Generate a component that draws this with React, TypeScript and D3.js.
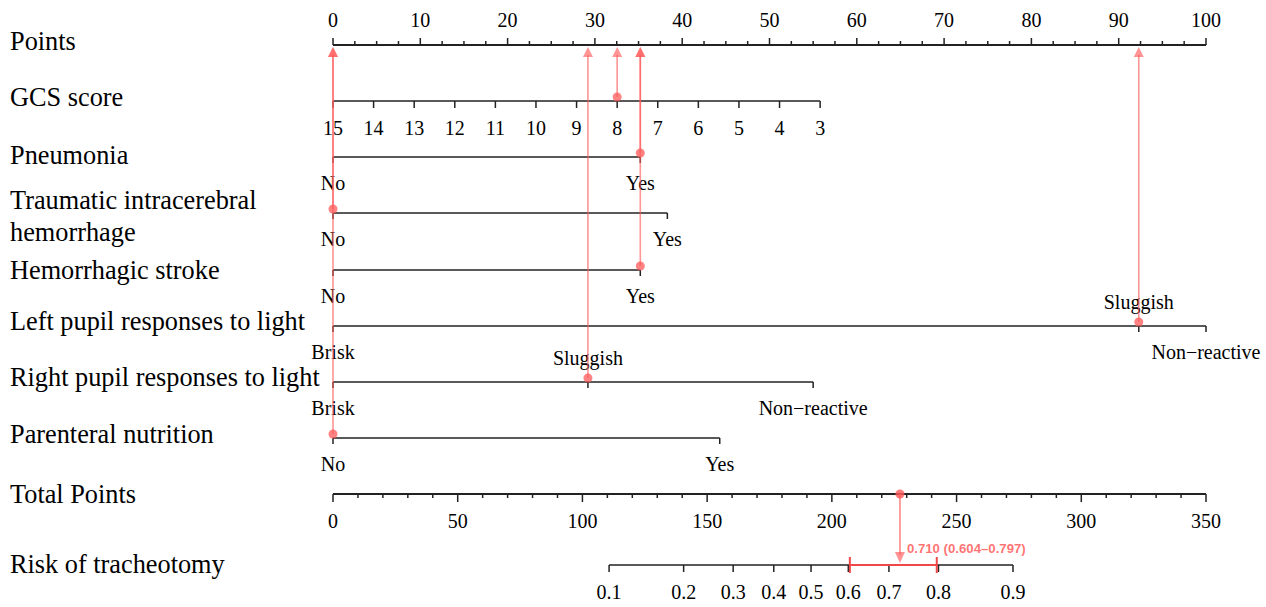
import React from "react";
import * as d3 from "d3";

// ---- data ----
const pointTicks = d3.range(0, 101, 10);
const pointMinor = d3.range(0, 100.01, 2.5);
const gcsLevels = [15, 14, 13, 12, 11, 10, 9, 8, 7, 6, 5, 4, 3];
const gcsPointRange = [0, 55.8]; // points at GCS 15 and GCS 3
const pneumoniaLevels = ["No", "Yes"];
const pneumoniaPoints = [0, 35.2];
const ichLevels = ["No", "Yes"];
const ichPoints = [0, 38.3];
const strokeLevels = ["No", "Yes"];
const strokePoints = [0, 35.2];
const leftPupilLevels = ["Brisk", "Sluggish", "Non\u2212reactive"];
const leftPupilPoints = [0, 92.3, 100];
const rightPupilLevels = ["Brisk", "Sluggish", "Non\u2212reactive"];
const rightPupilPoints = [0, 29.2, 55.0];
const pnLevels = ["No", "Yes"];
const pnPoints = [0, 44.3];
const totalTicks = d3.range(0, 351, 50);
const totalMinor = d3.range(0, 351, 10);
const riskTicks = [0.1, 0.2, 0.3, 0.4, 0.5, 0.6, 0.7, 0.8, 0.9];
const riskIntercept = -5.201;
const riskSlope = 0.027137;
// selected patient
const selGcs = 8;
const selPneumonia = 1;
const selIch = 0;
const selStroke = 1;
const selLeft = 1;
const selRight = 1;
const selPn = 0;
const selTotal = 227.3;
const selRisk = 0.71;
const selRiskLo = 0.604;
const selRiskHi = 0.797;

const W = 1266;
const H = 607;
const serif = "Liberation Serif, DejaVu Serif, serif";
const red = "#FF5A5A";
const redOp = 0.65;
const axisColor = "#222";

const px = d3.scaleLinear().domain([0, 100]).range([333, 1206]);
const tx = d3.scaleLinear().domain([0, 350]).range([333, 1206]);
const gcsScale = d3.scaleLinear().domain([15, 3]).range(gcsPointRange);
const logit = (p: number) => Math.log(p / (1 - p));
const rx = (p: number) => tx((logit(p) - riskIntercept) / riskSlope);

const labelSize = 26.3;
const tickSize = 20;

type Row = {
  name: string[];
  nameY: number;
  lineY: number;
  levels: string[];
  points: number[];
  sel: number;
  above?: number[];
};

const rows: Row[] = [
  { name: ["Pneumonia"], nameY: 164, lineY: 157, levels: pneumoniaLevels, points: pneumoniaPoints, sel: selPneumonia },
  { name: ["Traumatic intracerebral", "hemorrhage"], nameY: 209, lineY: 213, levels: ichLevels, points: ichPoints, sel: selIch },
  { name: ["Hemorrhagic stroke"], nameY: 279, lineY: 270, levels: strokeLevels, points: strokePoints, sel: selStroke },
  { name: ["Left pupil responses to light"], nameY: 330, lineY: 326, levels: leftPupilLevels, points: leftPupilPoints, sel: selLeft, above: [1] },
  { name: ["Right pupil responses to light"], nameY: 386, lineY: 382, levels: rightPupilLevels, points: rightPupilPoints, sel: selRight, above: [1] },
  { name: ["Parenteral nutrition"], nameY: 443, lineY: 438, levels: pnLevels, points: pnPoints, sel: selPn },
];

const pointsAxisY = 45;
const gcsY = 101;
const totalY = 494;
const riskY = 565;

function UpArrow({ x, y0 }: { x: number; y0: number }) {
  const tip = pointsAxisY + 2;
  return (
    <g>
      <line x1={x} x2={x} y1={y0} y2={tip + 8} stroke={red} strokeOpacity={redOp} strokeWidth={1.6} />
      <path d={`M${x},${tip} L${x - 5},${tip + 10} L${x + 5},${tip + 10} Z`} fill={red} fillOpacity={redOp} />
    </g>
  );
}

export default function App() {
  const selPointsList: { x: number; y: number }[] = [];
  selPointsList.push({ x: px(gcsScale(selGcs)), y: gcsY - 4 });
  rows.forEach((r) => selPointsList.push({ x: px(r.points[r.sel]), y: r.lineY - 4 }));

  const totalDotX = tx(selTotal);
  const ts = { fontFamily: serif };

  return (
    <svg width={W} height={H} style={{ position: "absolute", left: 0, top: 0, background: "#fff", fontFamily: serif }}>
      <rect x={0} y={0} width={W} height={H} fill="#fff" />
      {/* Left labels */}
      <g fontSize={labelSize} fill="#000" style={ts}>
        <text x={10} y={50}>Points</text>
        <text x={10} y={106}>GCS score</text>
        {rows.map((r, i) =>
          r.name.map((n, j) => (
            <text key={`${i}-${j}`} x={10} y={r.nameY + j * 32}>{n}</text>
          ))
        )}
        <text x={10} y={503}>Total Points</text>
        <text x={10} y={573}>Risk of tracheotomy</text>
      </g>

      {/* Points axis */}
      <g stroke={axisColor} strokeWidth={1.5}>
        <line x1={px(0)} x2={px(100)} y1={pointsAxisY} y2={pointsAxisY} strokeWidth={2} />
        {pointMinor.map((v) => (
          <line key={v} x1={px(v)} x2={px(v)} y1={pointsAxisY} y2={pointsAxisY - (v % 10 === 0 ? 7 : 4)} />
        ))}
      </g>
      <g fontSize={tickSize} textAnchor="middle" style={ts}>
        {pointTicks.map((v) => (
          <text key={v} x={px(v)} y={27}>{v}</text>
        ))}
      </g>

      {/* GCS axis */}
      <g stroke={axisColor} strokeWidth={1.5}>
        <line x1={px(gcsScale(15))} x2={px(gcsScale(3))} y1={gcsY} y2={gcsY} />
        {gcsLevels.map((v) => (
          <line key={v} x1={px(gcsScale(v))} x2={px(gcsScale(v))} y1={gcsY} y2={gcsY + 7} />
        ))}
      </g>
      <g fontSize={tickSize} textAnchor="middle" style={ts}>
        {gcsLevels.map((v) => (
          <text key={v} x={px(gcsScale(v))} y={135}>{v}</text>
        ))}
      </g>

      {/* categorical rows */}
      {rows.map((r, i) => {
        const xs = r.points.map((p) => px(p));
        return (
          <g key={i}>
            <line x1={d3.min(xs)} x2={d3.max(xs)} y1={r.lineY} y2={r.lineY} stroke={axisColor} strokeWidth={1.5} />
            {xs.map((x, k) => (
              <line key={k} x1={x} x2={x} y1={r.lineY} y2={r.lineY + 6} stroke={axisColor} strokeWidth={1.5} />
            ))}
            <g fontSize={tickSize} textAnchor="middle" style={ts}>
              {r.levels.map((l, k) => {
                const above = r.above && r.above.includes(k);
                return (
                  <text key={k} x={xs[k]} y={above ? r.lineY - 17 : r.lineY + 33}>{l}</text>
                );
              })}
            </g>
          </g>
        );
      })}

      {/* Total points axis */}
      <g stroke={axisColor} strokeWidth={1.5}>
        <line x1={tx(0)} x2={tx(350)} y1={totalY} y2={totalY} strokeWidth={2} />
        {totalMinor.map((v) => (
          <line key={v} x1={tx(v)} x2={tx(v)} y1={totalY} y2={totalY + (v % 50 === 0 ? 8 : 4)} />
        ))}
      </g>
      <g fontSize={tickSize} textAnchor="middle" style={ts}>
        {totalTicks.map((v) => (
          <text key={v} x={tx(v)} y={528}>{v}</text>
        ))}
      </g>

      {/* Risk axis */}
      <g stroke={axisColor} strokeWidth={1.5}>
        <line x1={rx(0.1)} x2={rx(0.9)} y1={riskY} y2={riskY} />
        {riskTicks.map((v) => (
          <line key={v} x1={rx(v)} x2={rx(v)} y1={riskY} y2={riskY + 7} />
        ))}
      </g>
      <g fontSize={tickSize} textAnchor="middle" style={ts}>
        {riskTicks.map((v) => (
          <text key={v} x={rx(v)} y={599}>{v.toFixed(1)}</text>
        ))}
      </g>

      {/* selections */}
      {selPointsList.map((s, i) => (
        <g key={i}>
          <UpArrow x={s.x} y0={s.y} />
          <circle cx={s.x} cy={s.y} r={4.5} fill={red} fillOpacity={0.75} />
        </g>
      ))}

      {/* total to risk */}
      <g>
        <line x1={rx(selRiskLo)} x2={rx(selRiskHi)} y1={riskY} y2={riskY} stroke="#F04848" strokeWidth={2.2} />
        <line x1={rx(selRiskLo)} x2={rx(selRiskLo)} y1={riskY - 8} y2={riskY + 8} stroke="#F04848" strokeWidth={2} />
        <line x1={rx(selRiskHi)} x2={rx(selRiskHi)} y1={riskY - 8} y2={riskY + 8} stroke="#F04848" strokeWidth={2} />
        <line x1={totalDotX} x2={totalDotX} y1={totalY} y2={riskY - 10} stroke={red} strokeOpacity={redOp} strokeWidth={1.8} />
        <path d={`M${totalDotX},${riskY - 2} L${totalDotX - 5},${riskY - 13} L${totalDotX + 5},${riskY - 13} Z`} fill={red} fillOpacity={redOp} />
        <circle cx={totalDotX} cy={totalY} r={4.5} fill={red} fillOpacity={0.8} />
        <text x={totalDotX + 7} y={553} fontSize={13.2} fontWeight="bold" fill={red} fillOpacity={0.85} style={{ fontFamily: "Liberation Sans, Arial, sans-serif" }}>
          {`${selRisk.toFixed(3)} (${selRiskLo.toFixed(3)}\u2013${selRiskHi.toFixed(3)})`}
        </text>
      </g>
    </svg>
  );
}
